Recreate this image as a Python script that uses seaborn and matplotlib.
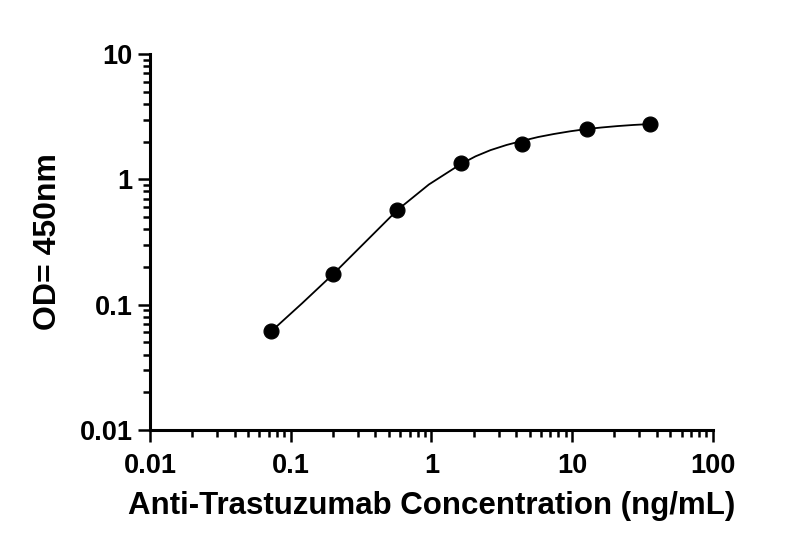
import numpy as np
import pandas as pd
import seaborn as sns
import matplotlib.pyplot as plt
from matplotlib.ticker import LogLocator, FixedLocator, FixedFormatter, NullFormatter

# dados
conc = [0.073, 0.2, 0.573, 1.61, 4.44, 12.7, 35.6]
od = [0.0615, 0.175, 0.569, 1.34, 1.91, 2.52, 2.76]

# curva ajustada (lida ponto a ponto da figura)
curva_x = [0.073, 0.121, 0.2, 0.339, 0.573, 0.96, 1.61, 2.06, 2.63, 3.42,
           4.44, 5.74, 7.42, 9.71, 12.7, 16.3, 21.0, 27.3, 35.6]
curva_y = [0.0615, 0.103, 0.175, 0.316, 0.569, 0.91, 1.32, 1.526, 1.71, 1.88,
           2.03, 2.176, 2.30, 2.418, 2.52, 2.594, 2.66, 2.716, 2.76]

x_ticks = [0.01, 0.1, 1, 10, 100]
x_labels = ["0.01", "0.1", "1", "10", "100"]
y_ticks = [0.01, 0.1, 1, 10]
y_labels = ["0.01", "0.1", "1", "10"]

sns.set_theme(style="ticks")
plt.rcParams['font.family'] = ['Liberation Sans', 'DejaVu Sans']
plt.rcParams['font.weight'] = 'bold'
plt.rcParams['text.color'] = 'black'
plt.rcParams['axes.labelcolor'] = 'black'
plt.rcParams['xtick.color'] = 'black'
plt.rcParams['ytick.color'] = 'black'

df_pts = pd.DataFrame({'x': conc, 'y': od})
df_curva = pd.DataFrame({'x': curva_x, 'y': curva_y})

fig = plt.figure(figsize=(8, 5.55), dpi=100)
ax = fig.add_axes([0.1875, 0.2252, 0.891 - 0.1875, 0.9027 - 0.2252])

sns.lineplot(data=df_curva, x='x', y='y', color='black', linewidth=1.3, ax=ax, sort=False)
sns.scatterplot(data=df_pts, x='x', y='y', color='black', s=115, edgecolor='black', ax=ax, zorder=5)

ax.set_xscale('log')
ax.set_yscale('log')
ax.set_xlim(0.01, 100)
ax.set_ylim(0.01, 10)

ax.xaxis.set_major_locator(FixedLocator(x_ticks))
ax.xaxis.set_major_formatter(FixedFormatter(x_labels))
ax.yaxis.set_major_locator(FixedLocator(y_ticks))
ax.yaxis.set_major_formatter(FixedFormatter(y_labels))
ax.xaxis.set_minor_locator(LogLocator(base=10, subs=np.arange(2, 10)))
ax.yaxis.set_minor_locator(LogLocator(base=10, subs=np.arange(2, 10)))
ax.xaxis.set_minor_formatter(NullFormatter())
ax.yaxis.set_minor_formatter(NullFormatter())

for lado in ['top', 'right']:
    ax.spines[lado].set_visible(False)
for lado in ['left', 'bottom']:
    ax.spines[lado].set_linewidth(2.2)
    ax.spines[lado].set_color('black')

ax.tick_params(which='major', length=8.5, width=1.8, color='black', labelcolor='black', labelsize=19.5)
ax.tick_params(axis='x', which='major', pad=8)
ax.tick_params(axis='y', which='major', pad=4)
ax.tick_params(which='minor', length=5, width=1.8, color='black')
for lbl in ax.get_xticklabels() + ax.get_yticklabels():
    lbl.set_fontweight('bold')

ax.set_xlabel("Anti-Trastuzumab Concentration (ng/mL)", fontsize=22.5, fontweight='bold',
              color='black', labelpad=9)
ax.set_ylabel("OD= 450nm", fontsize=23, fontweight='bold', color='black', labelpad=12)
ax.grid(False)

fig.savefig('out.png', dpi=100)
